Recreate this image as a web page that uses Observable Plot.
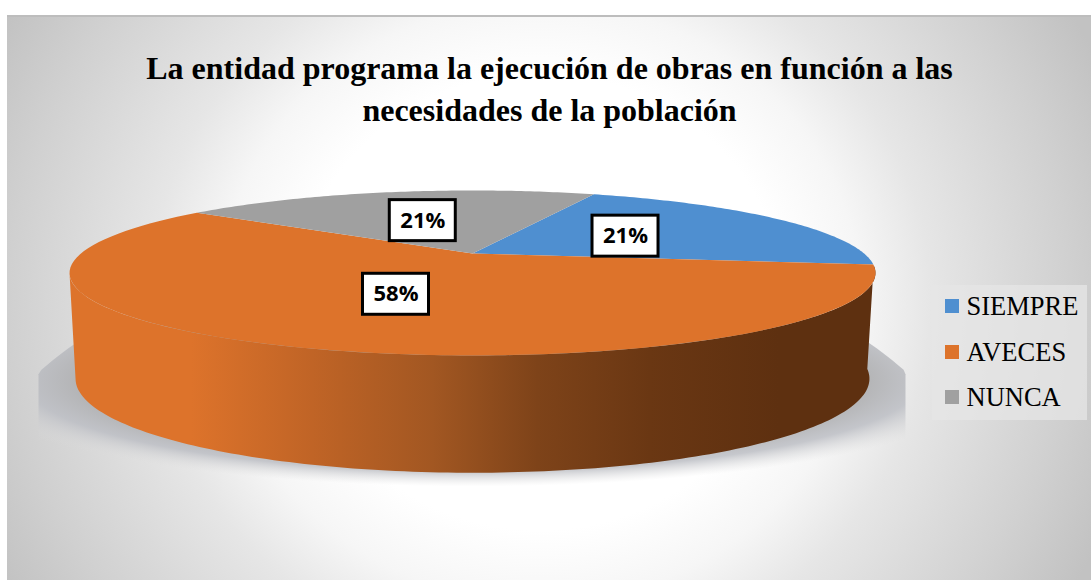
<!DOCTYPE html>
<html>
<head>
<meta charset="utf-8">
<script src="https://cdn.jsdelivr.net/npm/d3@7"></script>
<script src="https://cdn.jsdelivr.net/npm/@observablehq/plot@0.6"></script>
<style>
html,body{margin:0;padding:0;background:#fff;width:1091px;height:580px;overflow:hidden}
#bg{position:absolute;left:7px;top:15px;width:1084px;height:565px;box-sizing:border-box;border-top:2px solid #bdbdbd;
background:radial-gradient(640px 600px at 533px 285px,#fff 0%,#fff 38%,#f6f6f6 50%,#e6e6e6 61%,#d0d0d0 83%,#c2c2c2 96%)}
#chart{position:absolute;left:0;top:0}
</style>
</head>
<body>
<div id="bg"></div>
<div id="chart"></div>
<script>
// Data
const categories = ["SIEMPRE", "AVECES", "NUNCA"];
const values = [21, 58, 21];
const labels = ["21%", "58%", "21%"];
const colors = ["#4f8fd0", "#dd732b", "#a0a0a0"];
const titleLines = ["La entidad programa la ejecución de obras en función a las", "necesidades de la población"];

// Layout of the tilted disc
const W = 1091, H = 580;
const cx = 472, cy = 253, A = 391.6, B = 77.9, K = 0.236;
const startDeg = 67.8;
const serif = "'Liberation Serif','Times New Roman',serif";
const sans = "'Open Sans','Noto Sans',sans-serif";
const project = (deg, r = 1) => {
  const t = deg * Math.PI / 180, u = r * Math.cos(t), v = r * Math.sin(t), d = 1 + K * v;
  return {x: cx + A * u / d, y: cy - B * v / d};
};
const lower = p => ({x: cx + 0.985 * (p.x - cx), y: 356 + 1.14 * (p.y - cy)});
const total = d3.sum(values);

// Slices of the top face, clockwise, from the values
const slices = [];
const mids = [];
let acc = startDeg;
categories.forEach((name, i) => {
  const span = values[i] / total * 360;
  slices.push({name, ...project(0, 0)});
  for (let a = 0; a <= 90; a++) slices.push({name, ...project(acc - span * a / 90)});
  mids.push(acc - span / 2);
  acc -= span;
});

// Front wall
const wall = [];
const wallFrom = 180 + 13.65, wallTo = 352.2;
for (let a = wallFrom; a <= wallTo; a += 1) wall.push(project(a));
for (let a = wallTo; a >= wallFrom; a -= 1) wall.push(lower(project(a)));

// Floor shadow
const shadow = [];
for (let a = 0; a < 360; a += 1) {
  const t = a * Math.PI / 180;
  shadow.push({x: Math.max(38, Math.min(905, cx + 520 * Math.cos(t))), y: Math.min(495, 541 - 307 * Math.sin(t))});
}

// Value labels with box
const boxW = 66, boxH = 41;
const nudge = [[2, 0], [1, 3], [-5, -1]];
const labelPts = labels.map((text, i) => {
  const p = project(mids[i], 0.47);
  return {text, x: p.x + nudge[i][0], y: p.y + nudge[i][1]};
});

// Legend
const legendX = 945, legendY = [306, 352, 397];
const legendRows = categories.map((name, i) => ({name, y: legendY[i]}));

const svg = Plot.plot({
  width: W, height: H, margin: 0,
  style: {background: "transparent"},
  x: {axis: null, domain: [0, W], range: [0, W]},
  y: {axis: null, domain: [0, H], range: [0, H]},
  color: {domain: categories, range: colors},
  marks: [
    Plot.line(shadow, {x: "x", y: "y", fill: "url(#shadowGrad)", stroke: "none"}),
    Plot.line(wall, {x: "x", y: "y", fill: "url(#wallGrad)", stroke: "none"}),
    Plot.line(slices, {x: "x", y: "y", z: "name", fill: "name", stroke: "none"}),
    Plot.rect(labelPts, {x1: d => d.x - boxW / 2, x2: d => d.x + boxW / 2, y1: d => d.y - boxH / 2, y2: d => d.y + boxH / 2, fill: "#fff", stroke: "#000", strokeWidth: 3}),
    Plot.text(labelPts, {x: "x", y: "y", text: "text", fontFamily: sans, fontWeight: 700, fontSize: 22, fill: "#000"}),
    Plot.text(titleLines, {x: [549, 549], y: [68, 110], text: d => d, fontFamily: serif, fontWeight: 700, fontSize: 32, fill: "#000"}),
    Plot.rect([0], {x1: 932, x2: 1087, y1: 285, y2: 420, fill: "#e6e6e6", fillOpacity: 0.75}),
    Plot.rect(legendRows, {x1: legendX, x2: legendX + 14, y1: d => d.y - 7, y2: d => d.y + 7, fill: "name"}),
    Plot.text(legendRows, {x: legendX + 21, y: "y", text: "name", textAnchor: "start", fontFamily: serif, fontSize: 26.5, fill: "#000"})
  ]
});
svg.insertAdjacentHTML("afterbegin", `<defs>
<linearGradient id="wallGrad" gradientUnits="userSpaceOnUse" x1="70" x2="875" y1="0" y2="0">
<stop offset="0" stop-color="#dd732b"/><stop offset="0.15" stop-color="#dd732b"/><stop offset="0.3" stop-color="#c06426"/>
<stop offset="0.45" stop-color="#a25722"/><stop offset="0.58" stop-color="#7e4319"/><stop offset="0.72" stop-color="#6a3713"/>
<stop offset="0.88" stop-color="#5e3010"/><stop offset="1" stop-color="#5e3010"/>
</linearGradient>
<radialGradient id="shadowGrad" gradientUnits="userSpaceOnUse" cx="0" cy="0" r="1" gradientTransform="translate(472 380) scale(520 106)">
<stop offset="0" stop-color="#aaaaaa"/><stop offset="0.72" stop-color="#aeaeae"/><stop offset="0.86" stop-color="#bcbec4" stop-opacity="0.85"/><stop offset="1" stop-color="#ddd" stop-opacity="0"/>
</radialGradient>
</defs>`);
document.getElementById("chart").appendChild(svg);
</script>
</body>
</html>
